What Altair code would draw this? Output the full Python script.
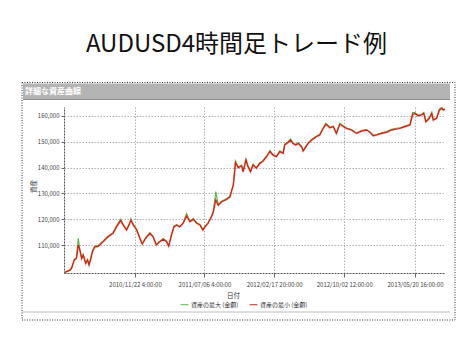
import altair as alt
import pandas as pd

FONT = "Noto Sans CJK JP"

dates = [
"2010-04-08","2010-04-25","2010-04-30","2010-05-09","2010-05-16","2010-05-22","2010-05-27","2010-06-02","2010-06-07","2010-06-15",
"2010-06-21","2010-06-26","2010-07-02","2010-07-07","2010-07-15","2010-07-26","2010-08-11","2010-08-27","2010-09-12","2010-09-23",
"2010-10-07","2010-10-15","2010-10-26","2010-11-03","2010-11-09","2010-11-17","2010-11-28","2010-12-08","2010-12-16","2010-12-27",
"2011-01-10","2011-01-20","2011-01-31","2011-02-11","2011-02-22","2011-03-05","2011-03-12","2011-03-21","2011-03-29","2011-04-07",
"2011-04-17","2011-04-28","2011-05-09","2011-05-20","2011-05-31","2011-06-11","2011-06-22","2011-07-01","2011-07-08","2011-07-18",
"2011-07-29","2011-08-04","2011-08-12","2011-08-20","2011-08-31","2011-09-16","2011-09-27","2011-10-08","2011-10-15","2011-10-24",
"2011-11-04","2011-11-09","2011-11-18","2011-11-25","2011-12-03","2011-12-11","2011-12-22","2012-01-02","2012-01-13","2012-01-24",
"2012-02-04","2012-02-14","2012-02-25","2012-03-07","2012-03-18","2012-03-23","2012-04-03","2012-04-11","2012-04-19","2012-04-28",
"2012-05-06","2012-05-17","2012-05-22","2012-05-31","2012-06-07","2012-06-18","2012-07-04","2012-07-15","2012-07-26","2012-08-04",
"2012-08-17","2012-08-28","2012-09-07","2012-09-18","2012-10-01","2012-10-10","2012-10-26","2012-11-11","2012-11-28","2012-12-14",
"2012-12-25","2013-01-05","2013-01-16","2013-02-01","2013-02-17","2013-03-05","2013-03-22","2013-04-01","2013-04-18","2013-05-04",
"2013-05-13","2013-05-20","2013-05-31","2013-06-11","2013-06-18","2013-06-25","2013-07-06","2013-07-14","2013-07-19","2013-07-30",
"2013-08-08","2013-08-16","2013-08-21","2013-08-26"]

equity_min = [
99500, 100400, 101100, 104300, 104900, 110100, 108200, 104900, 106200, 103000,
104300, 102400, 104900, 107500, 109400, 109600, 111400, 113300, 114600, 117100,
119500, 117800, 115900, 117800, 119700, 117800, 115900, 112700, 110500, 112700,
114600, 113300, 110100, 111400, 112300, 111400, 109700, 113900, 117100, 117800,
117100, 118500, 121300, 119100, 120000, 118500, 117800, 115900, 117100, 118500,
121000, 122900, 127500, 125500, 126800, 127700, 128700, 133200, 141900, 140000,
140700, 138400, 142900, 140300, 138400, 141000, 139800, 141600, 142500, 144200,
146200, 144800, 144200, 146100, 145500, 148700, 149700, 150600, 149300, 148700,
149300, 148000, 146400, 148000, 149300, 150600, 151900, 152600, 155100, 156700,
155400, 155800, 153200, 156700, 155800, 155100, 154500, 153200, 154100, 154500,
153600, 152300, 152600, 153200, 153600, 154500, 154900, 155100, 155800, 156400,
160500, 160900, 160000, 160300, 160900, 157700, 159000, 160900, 158300, 159000,
162200, 162900, 162200, 162500]

equity_max = [
99600, 100600, 101300, 104600, 105200, 112700, 108400, 105100, 106500, 103200,
104500, 102600, 105200, 107800, 109700, 110000, 111700, 113600, 114900, 117400,
120100, 118000, 116100, 118000, 120300, 118000, 116100, 112900, 110700, 113000,
114900, 113500, 110300, 111600, 112600, 111600, 109900, 114200, 117400, 118000,
117300, 118700, 122300, 119300, 120300, 118700, 118000, 116100, 117300, 118700,
121300, 123200, 130700, 125700, 127000, 128000, 129000, 133600, 142500, 140200,
140900, 138600, 143500, 140500, 138600, 141300, 140000, 141900, 142800, 144500,
146600, 145000, 144400, 146500, 145700, 149100, 150000, 151100, 149500, 148900,
149600, 148200, 146600, 148300, 149600, 150900, 152200, 152800, 155400, 157200,
155600, 156000, 153400, 157100, 156000, 155300, 154700, 153400, 154300, 154700,
153800, 152500, 152800, 153400, 153900, 154800, 155200, 155400, 156100, 156700,
161300, 161300, 160200, 160600, 161300, 157900, 159300, 161300, 158500, 159300,
162700, 163200, 162400, 162700]

series_names = ["資産の最大 (金額)", "資産の最小 (金額)"]
series_colors = ["#55b04a", "#d81e14"]
x_ticks = ["2010-11-22T04:00:00", "2011-07-06T04:00:00", "2012-02-17T20:00:00",
           "2012-10-02T12:00:00", "2013-05-20T16:00:00"]
y_ticks = [110000, 120000, 130000, 140000, 150000, 160000]
x_domain = ["2010-04-05T14:00:00", "2013-08-26T03:00:00"]
y_domain = [99300, 163400]

rows = []
for d, v in zip(dates, equity_max):
    rows.append({"日付": d + "T00:00:00", "資産": v, "系列": series_names[0]})
for d, v in zip(dates, equity_min):
    rows.append({"日付": d + "T00:00:00", "資産": v, "系列": series_names[1]})
df = pd.DataFrame(rows)

x_enc = alt.X("日付:T", scale=alt.Scale(domain=x_domain),
              axis=alt.Axis(values=x_ticks, format="%Y/%m/%d %-H:%M:%S",
                            labelFontSize=6, labelColor="#444", labelFont=FONT,
                            tickSize=4, tickColor="#666", domainColor="#555",
                            domainDash=[2, 1], grid=True, gridDash=[1.5, 1.5],
                            gridColor="#b0b0b0", labelPadding=4, labelOverlap=False,
                            labelFlush=False, title="日付", titleFontSize=6.5,
                            titleFontWeight="normal", titleFont=FONT, titleColor="#333",
                            titleX=169, titleY=19))
y_enc = alt.Y("資産:Q", scale=alt.Scale(domain=y_domain, nice=False, zero=False),
              axis=alt.Axis(values=y_ticks, format=",.0f", labelFontSize=6,
                            labelColor="#444", labelFont=FONT, tickSize=3,
                            tickColor="#666", domainColor="#555", domainDash=[2, 1],
                            grid=True, gridDash=[1.5, 1.5], gridColor="#b0b0b0",
                            labelPadding=2, title="資産", titleFontSize=6.5,
                            titleFontWeight="normal", titleFont=FONT, titleColor="#333",
                            titleX=-31, titleY=79, titleAngle=270,
                            titleAlign="center", titleBaseline="middle"))
color_enc = alt.Color("系列:N", scale=alt.Scale(domain=series_names, range=series_colors),
                      legend=alt.Legend(orient="none", legendX=116, legendY=193,
                                        direction="horizontal", title=None,
                                        symbolType="stroke", symbolSize=60,
                                        symbolStrokeWidth=1, labelFontSize=6,
                                        labelFont=FONT, labelColor="#333",
                                        labelOffset=2, columnPadding=8))

base = alt.Chart(df)
halo = base.transform_filter(alt.datum["系列"] == series_names[1]).mark_line(
    strokeWidth=2.6, color="#f4a8a0", opacity=0.4).encode(x=x_enc, y=y_enc)
line_max = base.transform_filter(alt.datum["系列"] == series_names[0]).mark_line(
    strokeWidth=1.1).encode(x=x_enc, y=y_enc, color=color_enc)
line_min = base.transform_filter(alt.datum["系列"] == series_names[1]).mark_line(
    strokeWidth=1.2).encode(x=x_enc, y=y_enc, color=color_enc)

one = pd.DataFrame({"k": [0]})
frame = alt.Chart(one).mark_rect(fill=None, stroke="#333", strokeWidth=1,
                                 strokeDash=[1, 1.5]).encode(
    x=alt.value(-42), x2=alt.value(391), y=alt.value(-24.5), y2=alt.value(213))
header = alt.Chart(one).mark_rect(fill="#b4b4b4").encode(
    x=alt.value(-41), x2=alt.value(386), y=alt.value(-23.5), y2=alt.value(-8))
header_line = alt.Chart(one).mark_rule(color="#8e8e8e", strokeWidth=1).encode(
    x=alt.value(-41), x2=alt.value(386), y=alt.value(-7.5))
header_text = alt.Chart(one).mark_text(text="詳細な資産曲線", font=FONT, fontSize=8,
                                       fontWeight="bold", color="#ffffff",
                                       align="left", baseline="middle").encode(
    x=alt.value(-39), y=alt.value(-15))
bottom_line = alt.Chart(one).mark_rule(color="#bdbdbd", strokeWidth=1).encode(
    x=alt.value(-42), x2=alt.value(386), y=alt.value(205))
title = alt.Chart(one).mark_text(text="AUDUSD4時間足トレード例", font=FONT, fontSize=24,
                                 color="#111", align="center",
                                 baseline="alphabetic").encode(
    x=alt.value(172.5), y=alt.value(-55.5))

chart = alt.layer(frame, header, header_line, header_text, bottom_line, title,
                  halo, line_max, line_min).properties(
    width=381, height=166,
    padding={"left": 64, "top": 107, "right": 30, "bottom": 84},
    autosize=alt.AutoSizeParams(type="none"),
    background="white",
).configure_view(stroke=None)

chart.save("out.html", embed_options={"renderer": "svg", "actions": False})
